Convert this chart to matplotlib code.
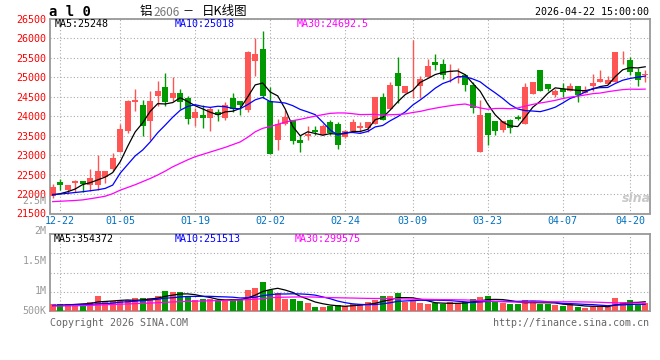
import numpy as np
import pandas as pd
import matplotlib
matplotlib.use('Agg')
import matplotlib.pyplot as plt

# daily candles, aluminium AL2606, 2025-12-19 .. 2026-04-22
opens = [21950, 22320, 22100, 22280, 22330, 22220, 22220, 22440, 22640, 23080,
         23620, 24360, 24300, 23890, 24530, 24760, 24460, 24610, 24470, 23950,
         24020, 23950, 24100, 23950, 24470, 24400, 24160, 25420, 25740, 24380,
         23400, 23800, 23910, 23400, 23490, 23650, 23530, 23850, 23800, 23460,
         23620, 23700, 23690, 23800, 24500, 24190, 25120, 24610, 25000, 24790,
         25000, 25400, 25350, 25150, 24980, 25070, 24810, 23090, 24090, 23870,
         23640, 23900, 23970, 23800, 24580, 25190, 24830, 24540, 24710, 24660,
         24770, 24600, 24790, 24880, 24820, 24890, 25540, 25450, 25150, 25050]
highs = [22270, 22380, 22230, 22350, 22340, 22650, 23000, 22590, 23050, 23800,
         24410, 24700, 24430, 24650, 24910, 25100, 25010, 24700, 24530, 24200,
         24300, 24250, 24190, 24370, 24590, 24400, 25670, 26000, 26190, 24740,
         23930, 24150, 23910, 23530, 23760, 23760, 23800, 23910, 23850, 23650,
         23920, 23860, 23850, 24490, 24610, 24890, 25530, 24790, 25960, 25040,
         25470, 25590, 25480, 25340, 25230, 25080, 24890, 24430, 24090, 23870,
         23870, 23920, 24030, 24850, 24890, 25190, 24830, 24710, 24850, 24850,
         24770, 24770, 25090, 25190, 25030, 25660, 25690, 25530, 25230, 25190]
lows = [21910, 22100, 22000, 22040, 22050, 22090, 22110, 22280, 22600, 23080,
        23570, 24130, 23500, 23400, 24270, 24270, 24380, 24190, 23800, 23740,
        23690, 23630, 23890, 23900, 24100, 24020, 24100, 25040, 24480, 23040,
        23120, 23780, 23290, 23080, 23400, 23530, 23510, 23510, 23150, 23450,
        23600, 23590, 23590, 23800, 23900, 24190, 24350, 24600, 24460, 24460,
        25000, 25200, 24970, 24870, 24860, 24660, 24090, 23090, 23260, 23530,
        23600, 23580, 23900, 23800, 24580, 24650, 24640, 24490, 24490, 24660,
        24370, 24600, 24650, 24880, 24820, 24890, 25340, 25050, 24780, 24880]
closes = [22170, 22220, 22220, 22340, 22270, 22410, 22580, 22580, 22920, 23660,
          24400, 24430, 23740, 24400, 24650, 24360, 24610, 24360, 23920, 24100,
          23950, 24190, 24030, 24290, 24190, 24300, 25660, 25590, 24530, 23040,
          23800, 23970, 23360, 23320, 23550, 23590, 23740, 23570, 23250, 23630,
          23850, 23740, 23850, 24490, 23910, 24810, 24790, 24780, 25020, 24950,
          25300, 25310, 25050, 25170, 25000, 24810, 24200, 24030, 23530, 23620,
          23870, 23710, 23940, 24740, 24890, 24650, 24710, 24660, 24620, 24790,
          24540, 24680, 24850, 24960, 24940, 25660, 25560, 25130, 24920, 25090]
# volume, thousand lots
volume_k = [264, 264, 283, 283, 264, 339, 566, 377, 377, 377,
            415, 490, 490, 509, 566, 754, 716, 716, 528, 415,
            452, 479, 366, 415, 452, 452, 818, 893, 1120, 818,
            705, 479, 441, 366, 290, 150, 150, 189, 226, 189,
            264, 264, 339, 415, 566, 566, 679, 339, 377, 302,
            264, 302, 264, 339, 302, 339, 452, 528, 566, 339,
            302, 264, 264, 415, 377, 264, 264, 226, 189, 264,
            170, 110, 170, 200, 170, 501, 339, 415, 226, 290]

# moving-average values before the window is full (they use earlier sessions)
ma5_head = [21975, 22010, 22060, 22130]
ma10_head = [21990, 22000, 22020, 22040, 22060, 22085, 22110, 22145, 22230]
ma30_head = [21805, 21815, 21825, 21835, 21850, 21880, 21910, 21945, 22010, 22100,
             22170, 22240, 22320, 22400, 22490, 22590, 22700, 22790, 22880, 22960,
             23020, 23080, 23140, 23200, 23270, 23340, 23460, 23600, 23690]
vma5_head = [207, 219, 234, 253]
vma10_head = [215, 222, 230, 238, 245, 256, 271, 287, 302]
vma30_head = [189, 192, 196, 200, 207, 215, 226, 238, 249, 260,
              271, 283, 294, 305, 317, 332, 347, 358, 369, 377,
              385, 392, 400, 407, 415, 422, 437, 452, 471]

tick_pos = [1, 9, 19, 29, 39, 48, 58, 68, 77]
tick_labels = ['12-22', '01-05', '01-19', '02-02', '02-24', '03-09', '03-23', '04-07', '04-20']

RED = '#ff5555'
GREEN = '#009900'
GRID = '#aaaaaa'
MONO = 'DejaVu Sans Mono'
CJK = ['Noto Sans CJK SC', 'DejaVu Sans']
FS = 7.2


def moving_avg(vals, n, head):
    s = pd.Series(vals, dtype=float).rolling(n).mean().to_numpy()
    s[:n - 1] = head
    return s


o = np.array(opens); h = np.array(highs); l = np.array(lows); c = np.array(closes)
vol = np.array(volume_k) * 1000.0
x = np.arange(len(c))
up = c >= o
cols = np.where(up, RED, GREEN)

fig = plt.figure(figsize=(6.6, 3.6), dpi=100)
W, H = 660.0, 360.0

def fx(px):
    return px / W

def fy(py):
    return 1 - py / H

ax = fig.add_axes([fx(50), fy(213.5), 600 / W, 194.5 / H])
axv = fig.add_axes([fx(50), fy(311), 600 / W, 76.7 / H])

# --- price panel
ax.vlines(x, l, h, colors=cols, lw=1, zorder=3)
body = np.maximum(np.abs(c - o), 15)
ax.bar(x, body, bottom=np.minimum(o, c), width=0.76, color=cols, lw=0, zorder=4)
ax.plot(x, moving_avg(c, 5, ma5_head), color='black', lw=0.9, zorder=5)
ax.plot(x, moving_avg(c, 10, ma10_head), color='#0000ff', lw=0.9, zorder=5)
ax.plot(x, moving_avg(c, 30, ma30_head), color='#ff00ff', lw=0.9, zorder=5)

ax.set_xlim(-0.36, 79.64)
ax.set_ylim(21500, 26500)
ax.set_yticks(np.arange(21500, 26501, 500))
ax.set_xticks(tick_pos)
ax.set_xticklabels(tick_labels)
ax.tick_params(length=0, pad=3)
ax.tick_params(axis='y', colors='red', labelsize=FS)
ax.tick_params(axis='x', colors='#0070c0', labelsize=FS, pad=2)
for t in ax.get_yticklabels() + ax.get_xticklabels():
    t.set_fontfamily(MONO)

# --- volume panel
axv.bar(x, vol, width=0.76, color=cols, lw=0, zorder=3)
axv.plot(x, moving_avg(vol, 5, np.array(vma5_head) * 1000.0), color='black', lw=0.9, zorder=4)
axv.plot(x, moving_avg(vol, 10, np.array(vma10_head) * 1000.0), color='#0000ff', lw=0.9, zorder=4)
axv.plot(x, moving_avg(vol, 30, np.array(vma30_head) * 1000.0), color='#ff00ff', lw=0.9, zorder=4)
axv.set_xlim(-0.36, 79.64)
axv.set_ylim(0, 2940e3)
axv.set_yticks([735e3, 1470e3, 2205e3])
axv.set_yticklabels([])
axv.set_xticks(tick_pos)
axv.set_xticklabels([])
axv.tick_params(length=0)

for a in (ax, axv):
    a.grid(True, color=GRID, lw=0.8, linestyle=(0, (1, 2)))
    a.set_axisbelow(True)
    for sp in a.spines.values():
        sp.set_color('#999999')
        sp.set_linewidth(1.3)

# volume axis labels as sina places them
for lab, py in [('2M', 231), ('1.5M', 260.5), ('1M', 290.5), ('500K', 310.5)]:
    fig.text(fx(46.5), fy(py), lab, ha='right', va='center', color='#999999',
             fontsize=FS, family=MONO)
fig.text(fx(46.5), fy(201), '2.5M', ha='right', va='center', color='#999999',
         fontsize=FS, family=MONO)

# header
fig.text(fx(49), fy(12), 'a l 0', ha='left', va='center', fontsize=10,
         fontweight='bold', family=MONO)
fig.text(fx(140), fy(12), '铝', ha='left', va='center', fontsize=9, family=CJK)
fig.text(fx(153), fy(12.5), '2606', ha='left', va='center', fontsize=8.5,
         family=CJK, color='#777777')
fig.text(fx(183), fy(12), '－', ha='left', va='center', fontsize=8, family=CJK)
fig.text(fx(202), fy(12), '日K线图', ha='left', va='center', fontsize=9, family=CJK)
fig.text(fx(649), fy(12), '2026-04-22 15:00:00', ha='right', va='center',
         fontsize=FS, family=MONO)

# MA readouts
ma_txt = [('MA5:25248', 55, 'black'), ('MA10:25018', 175, '#0000ff'),
          ('MA30:24692.5', 297, '#ff00ff')]
for s, px, col in ma_txt:
    fig.text(fx(px), fy(24), s, ha='left', va='center', fontsize=FS, family=MONO, color=col)
vma_txt = [('MA5:354372', 54, 'black'), ('MA10:251513', 175, '#0000ff'),
           ('MA30:299575', 295, '#ff00ff')]
for s, px, col in vma_txt:
    fig.text(fx(px), fy(239), s, ha='left', va='center', fontsize=FS, family=MONO, color=col)

# footer + watermark
fig.text(fx(50), fy(323), 'Copyright 2026 SINA.COM', ha='left', va='center',
         fontsize=FS, family=MONO, color='#666666')
fig.text(fx(649), fy(323), 'http://finance.sina.com.cn', ha='right', va='center',
         fontsize=FS, family=MONO, color='#666666')
fig.text(fx(636), fy(199), 'sina', ha='center', va='center', fontsize=9,
         fontweight='bold', style='italic', color='#c8c8c8')

fig.savefig('out.png', dpi=100, facecolor='white')
